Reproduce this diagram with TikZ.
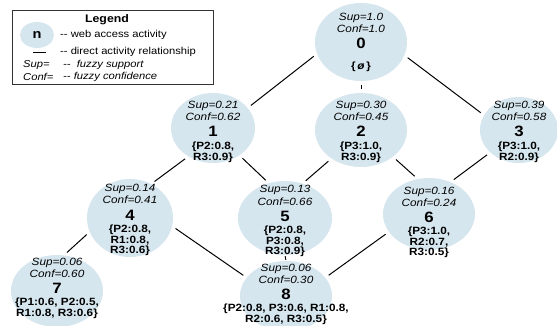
\documentclass[tikz,border=0pt]{standalone}
\usepackage{fontspec}
\setmainfont{Liberation Sans}[FakeStretch=1.12]
\usetikzlibrary{shapes.geometric}
\definecolor{actblue}{RGB}{214,230,238}
% activity: number, x, y of ellipse, sup baseline, sup, conf, set, size
\newcommand{\actnode}[8]{%
  \node[act, #8] at (#2,#3) (n#1) {};
  \node[stat] at (#2,#4) (sup#1) {Sup=#5};
  \node[stat] at (#2,#4+12) (conf#1) {Conf=#6};
  \node[num] at (#2,#4+28) (num#1) {#1};
  \node[set] at (#2,#4+33) (set#1) {#7};
}
\begin{document}
\begin{tikzpicture}[x=1pt, y=-1pt,
    act/.style={ellipse, fill=actblue, inner sep=0},
    stat/.style={anchor=base, inner sep=0, font=\itshape\fontsize{10.5}{12}\selectfont},
    num/.style={anchor=base, inner sep=0, font=\bfseries\fontsize{15}{15}\selectfont},
    set/.style={anchor=north, inner sep=0, align=center, font=\bfseries\fontsize{10.5}{10.5}\selectfont},
    legtext/.style={anchor=west, inner sep=0, font=\fontsize{10}{12}\selectfont},
    edge/.style={line width=1pt, shorten <=4pt, shorten >=4pt}]
    \useasboundingbox[fill=white] (0,0) rectangle (557,326);

    % legend
    \draw[gray!40!black, line width=0.8pt] (12,10) rectangle (213,84);
    \node[font=\bfseries\fontsize{11}{12}\selectfont] at (107,20) (legTitle) {Legend};
    \node[act, minimum width=34pt, minimum height=26pt] at (37,35) (legAct) {};
    \node[font=\bfseries\fontsize{13}{13}\selectfont] at (legAct) (legN) {n};
    \node[legtext] at (60,35) (legActText) {-{}- web access activity};
    \coordinate (legLineA) at (33,52);
    \coordinate (legLineB) at (46,52);
    \draw[line width=0.8pt] (legLineA) -- (legLineB);
    \node[legtext] at (60,52) (legLineText) {-{}- direct activity relationship};
    \node[legtext, font=\itshape\fontsize{10}{12}\selectfont] at (23,65) (legSup) {Sup=};
    \node[legtext, font=\itshape\fontsize{10}{12}\selectfont] at (63,65) (legSupText) {-{}- \ fuzzy support};
    \node[legtext, font=\itshape\fontsize{10}{12}\selectfont] at (23,77) (legConf) {Conf=};
    \node[legtext, font=\itshape\fontsize{10}{12}\selectfont] at (63,77) (legConfText) {-{}- fuzzy confidence};

    % activities
    \actnode{0}{361}{42}{21}{1.0}{1.0}{\rule{0pt}{15pt}\{\,\textit{ø}\,\}}{minimum width=92pt, minimum height=78pt}
    \actnode{1}{213}{128}{109}{0.21}{0.62}{\{P2:0.8,\\R3:0.9\}}{minimum width=84pt, minimum height=70pt}
    \actnode{2}{361}{130}{109}{0.30}{0.45}{\{P3:1.0,\\R3:0.9\}}{minimum width=92pt, minimum height=74pt}
    \actnode{3}{519}{130}{109}{0.39}{0.58}{\{P3:1.0,\\R2:0.9\}}{minimum width=78pt, minimum height=66pt}
    \actnode{4}{130}{218}{192}{0.14}{0.41}{\{P2:0.8,\\R1:0.8,\\R3:0.6\}}{minimum width=86pt, minimum height=78pt}
    \actnode{5}{285}{218}{193}{0.13}{0.66}{\{P2:0.8,\\P3:0.8,\\R3:0.9\}}{minimum width=94pt, minimum height=74pt}
    \actnode{6}{429}{214}{194}{0.16}{0.24}{\{P3:1.0,\\R2:0.7,\\R3:0.5\}}{minimum width=92pt, minimum height=72pt}
    \actnode{7}{57}{291}{265}{0.06}{0.60}{\{P1:0.6, P2:0.5,\\R1:0.8, R3:0.6\}}{minimum width=92pt, minimum height=72pt}
    \actnode{8}{286}{296}{271}{0.06}{0.30}{\{P2:0.8, P3:0.6, R1:0.8,\\R2:0.6, R3:0.5\}}{minimum width=92pt, minimum height=70pt}

    % relationships
    \draw[edge] (n0.195) -- (n1.30);
    \draw[edge] (n0.270) -- (n2.90);
    \draw[edge] (n0.-17) -- (n3.157);
    \draw[edge] (n1.229) -- (n4.58);
    \draw[edge] (n1.-46) -- (n5.115);
    \draw[edge] (n2.224) -- (n5.63);
    \draw[edge] (n2.-40) -- (n6.108);
    \draw[edge] (n3.218) -- (n6.56);
    \draw[edge] (n4.199) -- (n7.79);
    \draw[edge] (n4.-11) -- (n8.155);
    \draw[edge, shorten <=1pt, shorten >=1pt] (n5.270) -- (n8.90);
    \draw[edge] (n6.204) -- (n8.25);
\end{tikzpicture}
\end{document}
